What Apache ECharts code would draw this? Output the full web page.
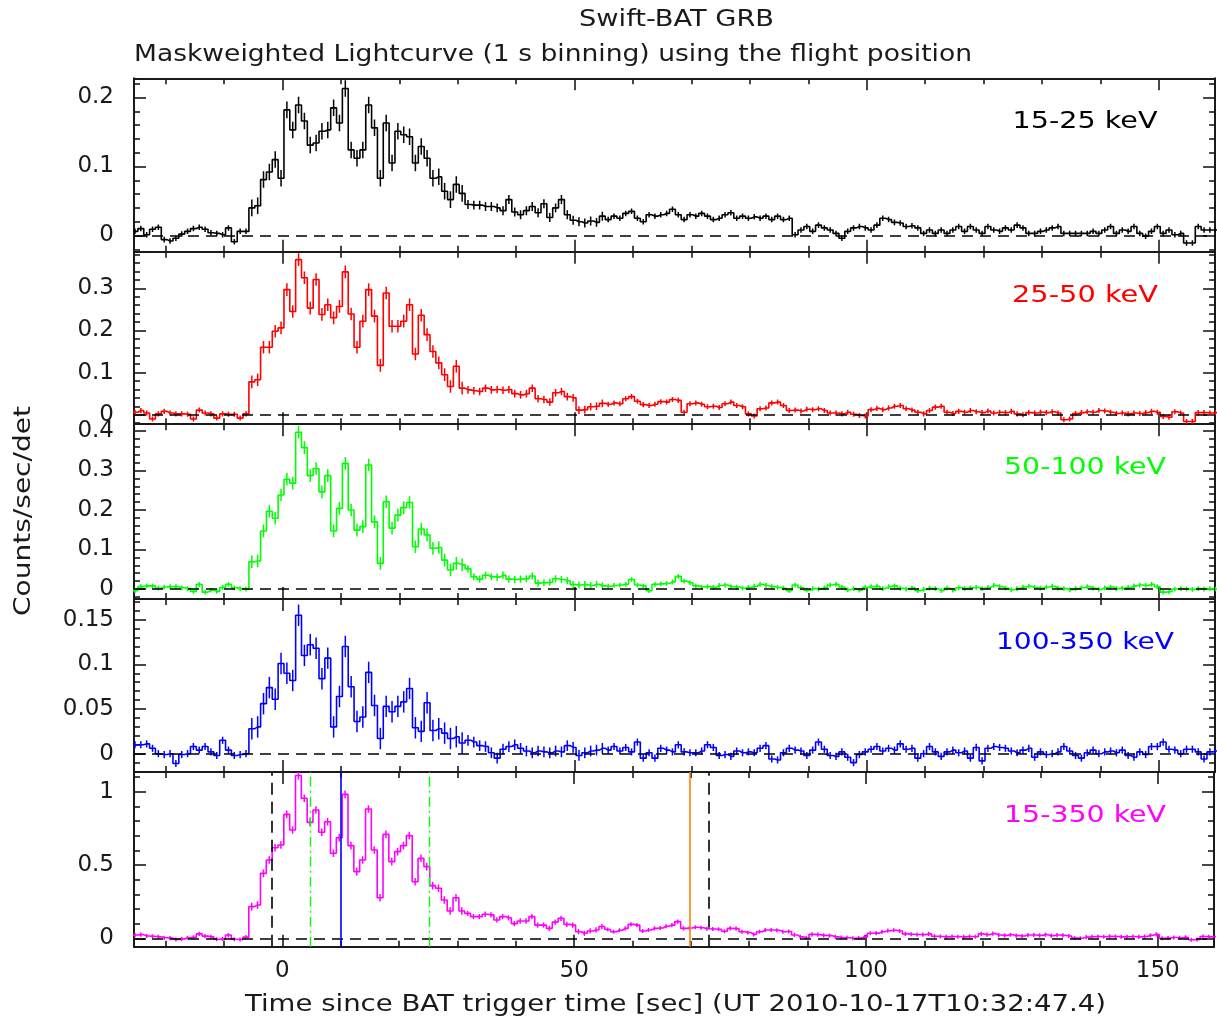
<!DOCTYPE html>
<html><head><meta charset="utf-8">
<script src="https://cdn.jsdelivr.net/npm/echarts@6/dist/echarts.min.js"></script>
<style>html,body{margin:0;padding:0;background:#fff}#c{width:1217px;height:1026px}</style>
</head><body><div id="c"></div>
<script>
// ---------------- DATA ----------------
const binStart = -25.25;   // centre of first 1 s bin [s]
const binWidth = 1;        // 1 s binning
const bandNames = ['15-25 keV', '25-50 keV', '50-100 keV', '100-350 keV', '15-350 keV'];
const xTickLabels = ['0', '50', '100', '150'];
const yTickLabels = [['0','0.1','0.2'], ['0','0.1','0.2','0.3'], ['0','0.1','0.2','0.3','0.4'], ['0','0.05','0.1','0.15'], ['0','0.5','1']];

const rate15_25 = [
 0.006,0.010,0.001,0.009,0.012,-0.006,-0.008,-0.004,0.002,0.006,0.010,0.012,0.009,0.004,0.003,0.001,0.011,-0.009,0.006,0.006,
 0.040,0.043,0.081,0.092,0.110,0.083,0.182,0.153,0.189,0.166,0.131,0.134,0.151,0.153,0.185,0.163,0.213,0.124,0.112,0.124,
 0.189,0.156,0.083,0.163,0.105,0.151,0.146,0.143,0.105,0.129,0.112,0.083,0.085,0.064,0.052,0.074,0.061,0.045,0.044,0.044,0.042,
 0.042,0.040,0.036,0.052,0.034,0.030,0.036,0.042,0.033,0.046,0.026,0.040,0.052,0.030,0.022,0.020,0.018,0.021,0.019,
 0.028,0.023,0.028,0.025,0.032,0.035,0.025,0.020,0.030,0.028,
 0.030,0.032,0.038,0.030,0.023,0.030,0.028,0.032,0.028,0.023,
 0.025,0.030,0.033,0.025,0.028,0.025,0.027,0.025,0.028,0.023,
 0.028,0.023,0.025,0.001,0.008,0.013,0.006,0.015,0.011,0.008,
 0.003,-0.004,0.006,0.011,0.013,0.011,0.008,0.015,0.025,0.023,
 0.019,0.018,0.013,0.014,0.011,0.003,0.008,0.003,0.008,0.003,
 0.008,0.013,0.006,0.013,0.008,0.003,0.013,0.008,0.006,0.011,
 0.008,0.015,0.011,0.003,0.003,0.006,0.008,0.011,0.013,0.003,
 0.003,0.003,0.003,0.003,0.006,0.003,0.008,0.013,0.003,0.008,
 0.006,0.013,0.003,-0.001,0.006,0.013,0.003,0.008,0.001,0.003,
 -0.011,-0.011,0.013,0.008,0.008,0.008
];
const rate25_50 = [
 0.006,0.010,0.004,-0.010,0.002,0.008,0.004,0.002,0.002,0.001,-0.010,0.011,0.004,0.002,-0.008,0.002,0.001,0.001,-0.008,0.002,
 0.078,0.083,0.160,0.160,0.198,0.206,0.297,0.245,0.368,0.325,0.253,0.321,0.238,0.261,0.230,0.257,0.339,0.239,0.160,0.222,
 0.297,0.234,0.117,0.289,0.210,0.210,0.222,0.261,0.144,0.236,0.190,0.150,0.123,0.095,0.067,0.115,0.063,0.059,0.057,0.055,0.063,
 0.059,0.060,0.058,0.060,0.050,0.047,0.050,0.063,0.038,0.036,0.030,0.052,0.055,0.043,0.040,0.011,0.012,0.019,0.020,
 0.027,0.025,0.028,0.026,0.038,0.043,0.032,0.024,0.022,0.025,
 0.031,0.030,0.036,0.034,0.006,0.026,0.028,0.025,0.019,0.020,
 0.017,0.026,0.030,0.022,0.019,0.002,-0.003,0.014,0.016,0.028,
 0.030,0.022,0.010,0.011,0.009,0.013,0.012,0.014,0.010,0.004,
 0.004,0.002,0.006,0.001,-0.002,-0.003,0.012,0.015,0.012,0.016,
 0.020,0.022,0.014,0.011,0.006,0.002,0.010,0.018,0.020,0.006,
 0.003,0.008,0.006,0.010,0.007,0.005,0.009,0.004,0.006,0.005,
 0.008,0.002,0.000,0.005,0.004,0.006,0.005,0.007,0.004,-0.012,
 -0.010,0.003,0.005,0.007,0.006,0.010,0.009,0.006,0.003,0.004,
 0.002,0.004,0.003,0.005,0.008,0.006,-0.004,-0.006,0.007,0.004,
 -0.016,-0.016,0.005,0.005,0.004,0.005
];
const rate50_100 = [
 -0.004,0.006,0.008,0.008,0.002,0.005,0.006,0.006,0.003,0.001,-0.006,0.012,-0.008,-0.003,-0.006,0.004,0.012,0.003,0.001,0.000,
 0.069,0.071,0.147,0.197,0.179,0.238,0.278,0.268,0.397,0.358,0.287,0.305,0.246,0.287,0.147,0.204,0.318,0.200,0.149,0.158,
 0.314,0.170,0.065,0.221,0.154,0.187,0.206,0.219,0.107,0.152,0.137,0.103,0.105,0.073,0.048,0.065,0.061,0.051,0.031,0.025,0.035,
 0.031,0.030,0.035,0.025,0.024,0.025,0.026,0.033,0.015,0.016,0.017,0.026,0.024,0.021,0.011,0.010,0.011,0.009,0.012,
 0.008,0.007,0.009,0.010,0.012,0.024,0.010,0.008,-0.004,0.012,
 0.013,0.014,0.018,0.032,0.020,0.016,0.008,0.005,0.006,0.004,
 0.009,0.010,0.006,0.005,0.002,0.004,0.007,0.012,0.009,0.006,
 0.004,0.002,-0.004,0.010,0.003,-0.003,0.001,0.000,0.003,0.010,
 0.012,0.005,-0.002,0.001,-0.003,0.004,0.006,0.007,0.001,0.006,
 0.008,0.002,0.000,0.003,-0.004,-0.001,0.002,0.001,-0.004,0.002,
 -0.003,0.003,0.001,0.003,0.004,0.001,0.004,0.009,0.006,0.002,
 -0.002,0.001,0.005,0.007,0.004,0.002,0.005,0.007,0.002,0.001,
 -0.002,0.001,0.003,0.006,0.002,-0.001,0.003,0.005,0.001,0.002,
 0.004,0.008,0.010,0.009,0.012,0.006,-0.008,-0.007,0.000,0.001,
 0.000,-0.001,0.001,0.000,0.001,0.000
];
const rate100_350 = [
 0.010,0.010,0.011,0.006,0.000,-0.001,0.000,-0.011,-0.001,0.000,0.008,0.004,0.008,0.002,-0.002,0.015,0.004,-0.002,-0.001,0.000,
 0.028,0.030,0.056,0.074,0.061,0.101,0.090,0.082,0.155,0.110,0.122,0.118,0.084,0.107,0.030,0.064,0.120,0.075,0.036,0.041,
 0.091,0.054,0.017,0.053,0.047,0.053,0.058,0.073,0.029,0.025,0.057,0.026,0.028,0.023,0.017,0.019,0.012,0.015,0.013,0.009,0.008,
 0.001,-0.005,0.005,0.008,0.010,0.006,0.003,0.001,0.003,0.002,0.001,0.003,0.002,0.009,0.007,-0.002,0.001,0.003,0.004,
 0.006,0.004,0.008,0.003,0.007,0.002,0.013,-0.005,0.001,-0.005,
 0.006,0.004,0.002,0.010,0.002,0.001,0.001,0.003,0.010,0.007,
 -0.002,-0.001,-0.003,0.003,0.001,0.002,0.001,0.006,0.009,-0.006,
 -0.007,0.001,0.006,0.004,0.003,-0.002,0.004,0.013,0.005,-0.002,
 -0.003,0.002,-0.004,-0.010,-0.001,0.002,0.005,0.008,0.003,0.006,
 0.004,0.011,0.005,0.006,-0.005,0.000,0.008,0.002,-0.003,0.002,
 0.004,0.001,0.003,-0.005,0.007,-0.008,0.006,0.008,0.007,0.006,
 0.003,0.001,0.004,0.006,-0.004,0.002,-0.001,0.000,0.002,0.008,
 0.003,-0.002,-0.005,0.001,0.004,0.000,0.002,0.003,0.001,0.004,
 -0.002,-0.004,0.002,-0.001,0.008,0.008,0.013,0.005,0.004,0.000,
 0.005,0.005,0.002,-0.006,0.002,0.003
];
const rate15_350 = [
 0.022,0.025,0.016,0.014,0.010,0.004,0.001,-0.008,-0.004,0.004,0.006,0.030,0.015,0.010,-0.006,-0.004,0.022,-0.006,-0.008,0.008,
 0.216,0.227,0.443,0.534,0.618,0.636,0.845,0.739,1.110,0.955,0.791,0.875,0.723,0.795,0.580,0.686,0.982,0.632,0.455,0.534,
 0.882,0.602,0.277,0.709,0.523,0.591,0.632,0.700,0.386,0.545,0.489,0.359,0.341,0.261,0.186,0.277,0.186,0.170,0.148,0.148,0.164,
 0.160,0.125,0.148,0.140,0.100,0.118,0.118,0.148,0.090,0.090,0.068,0.110,0.136,0.095,0.090,0.045,0.034,0.050,0.057,
 0.080,0.060,0.045,0.055,0.068,0.095,0.090,0.050,0.057,0.068,
 0.070,0.082,0.090,0.114,0.068,0.070,0.075,0.072,0.065,0.063,
 0.062,0.048,0.068,0.066,0.045,0.040,0.027,0.045,0.057,0.057,
 0.055,0.045,0.046,0.023,0.010,0.002,0.027,0.025,0.020,0.018,
 0.010,0.005,0.004,0.000,0.002,0.010,0.034,0.035,0.045,0.052,
 0.055,0.050,0.030,0.028,0.026,0.025,0.030,0.014,0.012,0.010,
 0.012,0.011,0.010,0.012,0.011,0.030,0.025,0.032,0.022,0.020,
 0.024,0.018,0.016,0.022,0.023,0.020,0.025,0.018,0.022,0.020,
 0.016,0.002,0.000,0.008,0.011,0.012,0.011,0.013,0.012,0.010,
 0.011,0.012,0.010,0.012,0.020,0.027,0.000,0.002,0.005,0.004,
 0.006,-0.010,-0.008,0.012,0.010,0.012
];
const rates = [rate15_25, rate25_50, rate50_100, rate100_350, rate15_350];

// 1-sigma error bar half-lengths, per time span [tFrom, tTo, err]
const err15_25   = [[-30,-5.75,0.0040],[-5.75,31.25,0.0120],[31.25,55.25,0.0065],[55.25,170,0.0040]];
const err25_50   = [[-30,-5.75,0.0060],[-5.75,31.25,0.0150],[31.25,55.25,0.0090],[55.25,170,0.0060]];
const err50_100  = [[-30,-5.75,0.0060],[-5.75,31.25,0.0160],[31.25,55.25,0.0090],[55.25,170,0.0060]];
const err100_350 = [[-30,-5.75,0.0040],[-5.75,31.25,0.0120],[31.25,55.25,0.0060],[55.25,170,0.0040]];
const err15_350  = [[-30,-5.75,0.0140],[-5.75,31.25,0.0260],[31.25,55.25,0.0180],[55.25,170,0.0140]];
const errs = [err15_25, err25_50, err50_100, err100_350, err15_350];

// time markers in the 15-350 keV panel [s]
const t100Bounds = [-1.9, 73.1];
const t90Bounds = [4.7, 25.1];
const blueMarkT = 10.0;
const orangeMarkT = 69.8;

// ---------------- LAYOUT / STYLE ----------------
const FONT = '"DejaVu Sans", sans-serif';
const TXT = '#1a1a1a';
const AX = '#1a1a1a';
const colors = ['#000000', '#ff0000', '#00ff00', '#0000ff', '#ff00ff'];
const plotLeft = 134, plotRight = 1215.1;
const gridTops = [78.3, 251.7, 424.2, 599.0, 771.9];
const gridBottoms = [251.7, 424.2, 599.0, 771.9, 946.7];
const yMins = [-0.0235, -0.0225, -0.0253, -0.0204, -0.0573];
const yMaxs = [0.2278, 0.3869, 0.4172, 0.1732, 1.135];
const ySplit = [3, 4, 4, 4, 2];
const xMin = -25.42, xMax = 159.64;

function pickLabel(list, v) {
  for (const s of list) if (Math.abs(parseFloat(s) - v) < 1e-9) return s;
  return '';
}
function xAx(g, pos) {
  return {
    type: 'value', gridIndex: g, position: pos, min: xMin, max: xMax, splitNumber: 4,
    axisLine: { show: true, onZero: false, lineStyle: { color: AX, width: 2 } },
    axisTick: { show: true, inside: true, length: 12, lineStyle: { color: AX, width: 1.6 } },
    minorTick: { show: true, splitNumber: 5, length: 6, lineStyle: { color: AX, width: 1.6 } },
    splitLine: { show: false }, minorSplitLine: { show: false },
    axisLabel: {
      show: g === 4 && pos === 'bottom', margin: 13, fontFamily: FONT, fontSize: 23, color: TXT,
      formatter: v => pickLabel(xTickLabels, v)
    }
  };
}
function yAx(g, pos) {
  return {
    type: 'value', gridIndex: g, position: pos, min: yMins[g], max: yMaxs[g], splitNumber: ySplit[g],
    axisLine: { show: true, onZero: false, lineStyle: { color: AX, width: 2 } },
    axisTick: { show: true, inside: true, length: 12, lineStyle: { color: AX, width: 1.6 } },
    minorTick: { show: true, splitNumber: 5, length: 6, lineStyle: { color: AX, width: 1.6 } },
    splitLine: { show: false }, minorSplitLine: { show: false },
    axisLabel: {
      show: pos === 'left', margin: 20, fontFamily: FONT, fontSize: 23, color: TXT,
      formatter: v => pickLabel(yTickLabels[g], v)
    }
  };
}
function stepData(vals) {
  const pts = [[binStart - binWidth / 2, vals[0]]];
  vals.forEach((v, i) => pts.push([binStart + i * binWidth, v]));
  pts.push([binStart + (vals.length - 1) * binWidth + binWidth / 2, vals[vals.length - 1]]);
  return pts;
}
function errData(vals, segs) {
  return vals.map((v, i) => {
    const t = binStart + i * binWidth;
    const s = segs.find(q => t >= q[0] && t < q[1]);
    const e = s ? s[2] : 0;
    return [t, v - e, v + e];
  });
}

const grids = [], xAxes = [], yAxes = [], series = [];
for (let g = 0; g < 5; g++) {
  grids.push({ left: plotLeft, width: plotRight - plotLeft, top: gridTops[g], height: gridBottoms[g] - gridTops[g], containLabel: false });
  xAxes.push(xAx(g, 'bottom'), xAx(g, 'top'));
  yAxes.push(yAx(g, 'left'), yAx(g, 'right'));
  const markData = [{ yAxis: 0, lineStyle: { color: '#000', type: [11, 7], width: 1.6 } }];
  if (g === 4) {
    t100Bounds.forEach(t => markData.push({ xAxis: t, lineStyle: { color: '#000', type: [12, 7], width: 1.6 } }));
    t90Bounds.forEach(t => markData.push({ xAxis: t, lineStyle: { color: '#00ff00', type: [10, 4, 2, 4], width: 1.4 } }));
    markData.push({ xAxis: blueMarkT, lineStyle: { color: '#0000ff', type: 'solid', width: 1.6 } });
    markData.push({ xAxis: orangeMarkT, lineStyle: { color: '#ff8000', type: 'solid', width: 1.6 } });
  }
  series.push({
    type: 'line', xAxisIndex: 2 * g, yAxisIndex: 2 * g, step: 'middle', showSymbol: false, symbol: 'none',
    clip: true, silent: true, animation: false,
    lineStyle: { color: colors[g], width: 1.6 },
    data: stepData(rates[g]),
    markLine: { silent: true, symbol: ['none', 'none'], label: { show: false }, animation: false, data: markData }
  });
  const col = colors[g];
  series.push({
    type: 'custom', xAxisIndex: 2 * g, yAxisIndex: 2 * g, clip: true, silent: true, animation: false,
    data: errData(rates[g], errs[g]),
    encode: { x: 0, y: [1, 2] },
    renderItem: (params, api) => {
      const p1 = api.coord([api.value(0), api.value(1)]);
      const p2 = api.coord([api.value(0), api.value(2)]);
      return { type: 'line', shape: { x1: p1[0], y1: p1[1], x2: p2[0], y2: p2[1] }, style: { stroke: col, lineWidth: 1.5 } };
    }
  });
}

// text helpers: stretch DejaVu horizontally to match the reference's wide stroke font
const mctx = document.createElement('canvas').getContext('2d');
function fit(text, size, target) {
  mctx.font = size + 'px "DejaVu Sans"';
  return target / mctx.measureText(text).width;
}
function label(text, x, y, size, align, target, color, rot) {
  return {
    type: 'text', x: x, y: y, rotation: rot || 0, scaleX: fit(text, size, target), silent: true,
    style: { text: text, font: size + 'px ' + FONT, fill: color || TXT, textAlign: align, textVerticalAlign: 'middle' }
  };
}
const bandCentreX = 1085;
const bandWidths = [145, 146, 162, 178, 162];
const graphics = [
  label('Swift-BAT GRB', 676.5, 20, 23, 'center', 195),
  label('Maskweighted Lightcurve (1 s binning) using the flight position', 134, 55, 23, 'left', 838),
  label('Time since BAT trigger time [sec] (UT 2010-10-17T10:32:47.4)', 675.5, 1005, 23, 'center', 861),
  label('Counts/sec/det', 24, 511, 23, 'center', 210, TXT, Math.PI / 2)
];
for (let g = 0; g < 5; g++) {
  graphics.push(label(bandNames[g], bandCentreX, gridTops[g] + 44, 23, 'center', bandWidths[g], colors[g]));
}

const chart = echarts.init(document.getElementById('c'), null, { renderer: 'canvas', width: 1217, height: 1026 });
chart.setOption({
  animation: false,
  backgroundColor: '#ffffff',
  grid: grids, xAxis: xAxes, yAxis: yAxes, series: series,
  graphic: graphics
});
</script>
</body></html>
